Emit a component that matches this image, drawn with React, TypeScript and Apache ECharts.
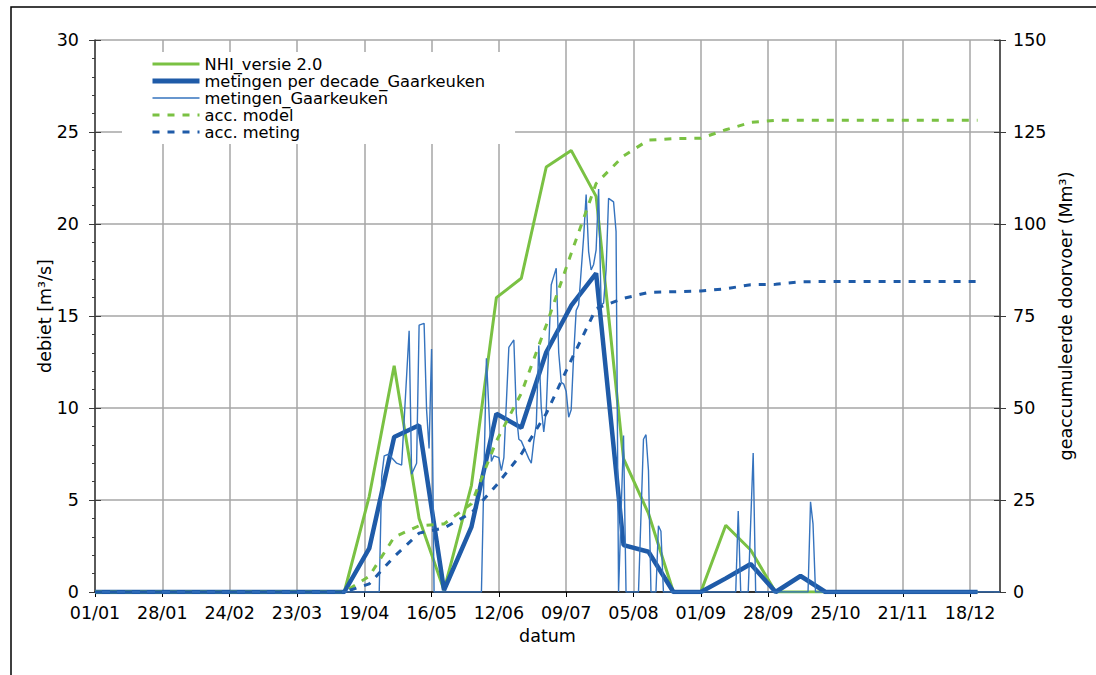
import React, { useEffect, useRef } from 'react';
import * as echarts from 'echarts';

// day-of-year (0 = 01/01) of decade points
const decadeDays = [0, 10, 20, 31, 41, 51, 59, 69, 79, 90, 100, 110, 120, 130, 140, 151, 161, 171, 181, 191, 201, 212, 222, 232, 243, 253, 263, 273, 283, 293, 304, 314, 324, 334, 344, 354];

const nhiValues = [0, 0, 0, 0, 0, 0, 0, 0, 0, 0, 0, 5.2, 12.3, 4.0, 0.1, 5.8, 16.0, 17.05, 23.1, 24.0, 21.5, 7.25, 4.27, 0, 0, 3.63, 2.28, 0, 0, 0, 0, 0, 0, 0, 0, 0];

const decadeMeasured = [0, 0, 0, 0, 0, 0, 0, 0, 0, 0, 0, 2.37, 8.42, 9.06, 0.1, 3.54, 9.69, 8.93, 13.03, 15.56, 17.32, 2.55, 2.19, 0, 0, 0.74, 1.52, 0, 0.87, 0, 0, 0, 0, 0, 0, 0];

const accModel = [0, 0, 0, 0, 0, 0, 0, 0, 0, 0, 0, 4.3, 14.9, 18.0, 18.5, 24.0, 41.0, 54.0, 72.5, 92.0, 111.0, 118.5, 122.8, 123.2, 123.3, 125.6, 127.6, 128.2, 128.2, 128.2, 128.2, 128.2, 128.2, 128.2, 128.2, 128.2];

const accMeasured = [0, 0, 0, 0, 0, 0, 0, 0, 0, 0, 0, 2.2, 9.6, 16.0, 17.4, 21.5, 29.0, 37.5, 48.5, 63.0, 77.0, 79.8, 81.4, 81.6, 81.8, 82.4, 83.5, 83.6, 84.3, 84.4, 84.4, 84.4, 84.4, 84.4, 84.4, 84.4];

// daily measurements: [day-of-year, value] at the vertices of the line
const dailyMeasured: [number, number][] = [
  [0, 0], [114, 0], [115, 6.3], [116, 7.4], [118, 7.5], [119, 7.3], [121, 7.0], [123, 6.9],
  [126, 14.2], [127, 6.4], [129, 7.0], [130, 14.5], [132, 14.6], [133, 9.9], [134, 7.8],
  [135, 13.2], [136, 0], [155, 0], [157, 12.7], [159, 7.1], [160, 7.4], [162, 7.3], [163, 6.6],
  [164, 7.3], [166, 13.3], [168, 13.7], [169, 9.7], [170, 8.3], [171, 8.2], [174, 7.25],
  [175, 7.0], [176, 8.2], [177, 9.1], [178, 13.4], [179, 10.0], [180, 8.7], [181, 9.9],
  [183, 16.7], [185, 17.6], [186, 13.0], [187, 11.4], [188, 11.3], [189, 10.9], [190, 9.5],
  [191, 9.9], [192, 12.9], [193, 15.3], [194, 15.6], [196, 19.3], [197, 21.6], [198, 18.5],
  [199, 17.5], [200, 17.8], [201, 18.6], [202, 21.9], [203, 15.6], [204, 15.7], [205, 17.5],
  [206, 21.4], [207, 21.3], [208, 21.2], [209, 19.6], [210, 0], [212, 8.5], [213, 0],
  [218, 0], [220, 8.3], [221, 8.55], [222, 6.6], [223, 0], [225, 0], [226, 3.6], [227, 3.3],
  [228, 0], [257, 0], [258, 4.4], [259, 0], [262, 0], [264, 7.55], [265, 0], [286, 0],
  [287, 4.9], [288, 3.7], [289, 0], [363, 0],
];

const seriesNames = ['NHI_versie 2.0', 'metingen per decade_Gaarkeuken', 'metingen_Gaarkeuken', 'acc. model', 'acc. meting'];

const GREEN = '#7ac143';
const BLUE = '#1f5ba8';
const BLUE_THIN = '#3573be';
const FONT = 'DejaVu Sans';
const AXIS_FONT = 17.5;
const LEGEND_FONT = 16.3;

const zip = (xs: number[], ys: number[]) => xs.map((x, i) => [x, ys[i]]);

function dayLabel(v: number): string {
  if (v % 27 !== 0) return '';
  const d = new Date(Date.UTC(2011, 0, 1) + v * 86400000);
  const dd = String(d.getUTCDate()).padStart(2, '0');
  const mm = String(d.getUTCMonth() + 1).padStart(2, '0');
  return dd + '/' + mm;
}

export default function App() {
  const ref = useRef<HTMLDivElement>(null);
  useEffect(() => {
    document.body.style.margin = '0';
    const chart = echarts.init(ref.current!, null, { renderer: 'svg' });
    const grid = '#a6a6a6';
    const axisCol = '#3a3a3a';
    const styles = [
      { color: GREEN, width: 3, type: 'solid' },
      { color: BLUE, width: 5, type: 'solid' },
      { color: BLUE_THIN, width: 1.5, type: 'solid' },
      { color: GREEN, width: 3, type: [7, 8] },
      { color: BLUE, width: 3, type: [7, 8] },
    ];
    const option: any = {
      animation: false,
      backgroundColor: '#fff',
      textStyle: { fontFamily: FONT, color: '#000' },
      grid: { left: 95, right: 96, top: 40, bottom: 83 },
      graphic: [
        {
          type: 'rect', silent: true, z: 100,
          shape: { x: 11, y: 7, width: 1100, height: 700 },
          style: { fill: 'none', stroke: '#000', lineWidth: 1.5 },
        },
      ],
      legend: {
        left: 122, top: 52, orient: 'vertical',
        backgroundColor: '#fff',
        padding: [4, 30, 4, 28],
        itemWidth: 47, itemHeight: 14, itemGap: 1.0,
        itemStyle: { color: 'rgba(0,0,0,0)', borderWidth: 0, opacity: 0 },
        textStyle: { fontSize: LEGEND_FONT, fontFamily: FONT, color: '#000' },
        data: seriesNames.map((n, i) => ({ name: n, lineStyle: { ...styles[i] } })),
        z: 10,
      },
      xAxis: {
        type: 'value', min: 0, max: 363, interval: 27,
        axisLine: { onZero: false, lineStyle: { color: '#000', width: 1.5 } },
        axisTick: { show: true, length: 5, lineStyle: { color: '#000' } },
        axisLabel: { fontSize: AXIS_FONT, color: '#000', fontFamily: FONT, margin: 12, formatter: dayLabel, showMaxLabel: false },
        splitLine: { show: true, lineStyle: { color: grid, width: 1.5 } },
        name: 'datum', nameLocation: 'middle', nameGap: 35,
        nameTextStyle: { fontSize: AXIS_FONT, color: '#000', fontFamily: FONT },
      },
      yAxis: [
        {
          type: 'value', position: 'left', min: 0, max: 30, interval: 5,
          axisLine: { show: true, lineStyle: { color: axisCol, width: 1.5 } },
          axisTick: { show: true, length: 6, lineStyle: { color: axisCol } },
          minorTick: { show: true, splitNumber: 5, length: 3, lineStyle: { color: axisCol } },
          axisLabel: { fontSize: AXIS_FONT, color: '#000', fontFamily: FONT, margin: 16 },
          splitLine: { show: true, lineStyle: { color: grid, width: 1.5 } },
          name: 'debiet [m³/s]', nameLocation: 'middle', nameGap: 41, nameMoveOverlap: false,
          nameTextStyle: { fontSize: AXIS_FONT, color: '#000', fontFamily: FONT },
        },
        {
          type: 'value', position: 'right', min: 0, max: 150, interval: 25,
          axisLine: { show: true, lineStyle: { color: axisCol, width: 1.5 } },
          axisTick: { show: true, length: 6, lineStyle: { color: axisCol } },
          axisLabel: { fontSize: AXIS_FONT, color: '#000', fontFamily: FONT, margin: 13 },
          splitLine: { show: false },
          name: 'geaccumuleerde doorvoer (Mm³)', nameLocation: 'middle', nameGap: 57,
          nameTextStyle: { fontSize: AXIS_FONT, color: '#000', fontFamily: FONT },
        },
        {
          type: 'value', position: 'left', min: 0, max: 30, interval: 5,
          axisLine: { show: false }, axisLabel: { show: false }, splitLine: { show: false },
          axisTick: { show: true, inside: true, length: 6, lineStyle: { color: axisCol } },
        },
        {
          type: 'value', position: 'right', min: 0, max: 150, interval: 25,
          axisLine: { show: false }, axisLabel: { show: false }, splitLine: { show: false },
          axisTick: { show: true, inside: true, length: 6, lineStyle: { color: axisCol } },
        },
      ],
      series: [
        {
          name: seriesNames[0], type: 'line', yAxisIndex: 0, symbol: 'none',
          data: zip(decadeDays, nhiValues),
          lineStyle: styles[0], itemStyle: { color: GREEN },
        },
        {
          name: seriesNames[1], type: 'line', yAxisIndex: 0, symbol: 'none',
          data: zip(decadeDays, decadeMeasured),
          lineStyle: { ...styles[1], width: 4.5 }, itemStyle: { color: BLUE },
        },
        {
          name: seriesNames[2], type: 'line', yAxisIndex: 0, symbol: 'none',
          data: dailyMeasured,
          lineStyle: { ...styles[2], width: 1.4 }, itemStyle: { color: BLUE_THIN },
        },
        {
          name: seriesNames[3], type: 'line', yAxisIndex: 1, symbol: 'none',
          data: zip(decadeDays, accModel),
          lineStyle: styles[3], itemStyle: { color: GREEN },
        },
        {
          name: seriesNames[4], type: 'line', yAxisIndex: 1, symbol: 'none',
          data: zip(decadeDays, accMeasured),
          lineStyle: styles[4], itemStyle: { color: BLUE },
        },
      ],
    };
    chart.setOption(option);
    return () => chart.dispose();
  }, []);
  return <div ref={ref} style={{ width: 1096, height: 675 }} />;
}
